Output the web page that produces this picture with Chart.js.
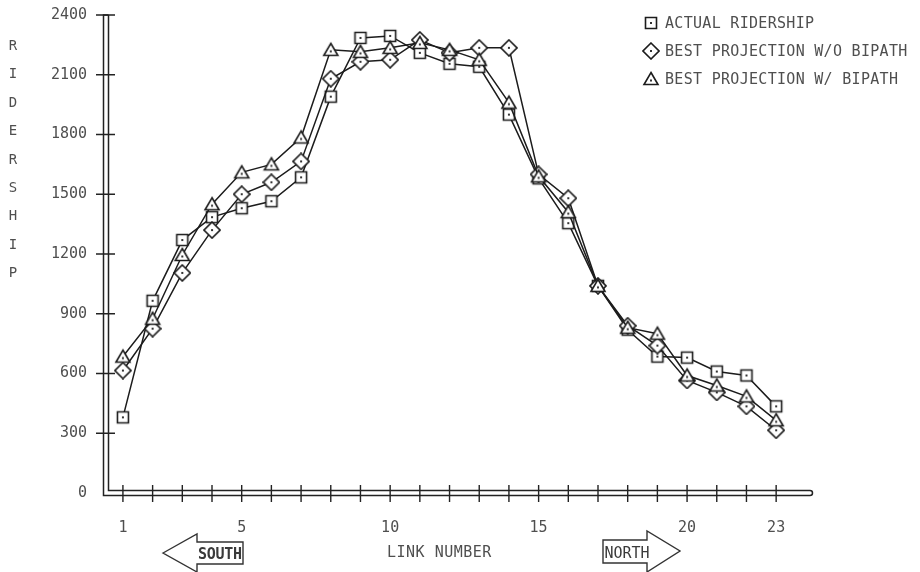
<!DOCTYPE html>
<html>
<head>
<meta charset="utf-8">
<script src="https://cdn.jsdelivr.net/npm/chart.js@4.4.1/dist/chart.umd.min.js"></script>
<style>
  html, body { margin: 0; padding: 0; background: #fff; }
  #wrap { position: relative; width: 920px; height: 572px; overflow: hidden;
          font-family: 'DejaVu Sans Mono', monospace; color: #4f4f4f; }
  #chart { position: absolute; left: 0; top: 0; }
  #ytitle { position: absolute; left: 5px; top: 31px; width: 16px; font-size: 14px;
            line-height: 28.4px; text-align: center; }
  #legend { position: absolute; left: 642px; top: 9px; font-size: 15px; letter-spacing: 0.3px; }
  #legend .row { height: 28px; display: flex; align-items: center; white-space: nowrap; }
  #legend canvas { margin-right: 5px; }
  #xtitle { position: absolute; left: 387px; top: 543px; font-size: 15px; letter-spacing: 0.5px; }
  svg { position: absolute; left: 0; top: 0; }
</style>
</head>
<body>
<div id="wrap">
  <canvas id="chart" width="920" height="572"></canvas>
  <div id="ytitle"></div>
  <div id="legend"></div>
  <div id="xtitle">LINK NUMBER</div>
  <svg width="920" height="572">
    <polygon points="163,553 197,534 197,542 243,542 243,564 197,564 197,572"
             fill="#fff" stroke="#333" stroke-width="1.4"/>
    <text x="220" y="559" text-anchor="middle" font-family="DejaVu Sans Mono, monospace"
          font-size="15" font-weight="bold" fill="#3a3a3a" textLength="44">SOUTH</text>
    <polygon points="603,540 647,540 647,531 680,551 647,572 647,563 603,563"
             fill="#fff" stroke="#333" stroke-width="1.4"/>
    <text x="627" y="558" text-anchor="middle" font-family="DejaVu Sans Mono, monospace"
          font-size="15" fill="#3a3a3a">NORTH</text>
  </svg>
</div>
<script>
// link numbers along the line (south -> north)
const links = [1, 2, 3, 4, 5, 6, 7, 8, 9, 10, 11, 12, 13, 14, 15, 16, 17, 18, 19, 20, 21, 22, 23];
const xLabelLinks = [1, 5, 10, 15, 20, 23];

// ridership per link
const actualRidership = [380, 965, 1270, 1385, 1430, 1465, 1585, 1990, 2285, 2295, 2210, 2155,
                         2140, 1900, 1580, 1355, 1040, 820, 685, 680, 610, 590, 435];
const projNoBipath    = [615, 825, 1105, 1320, 1500, 1560, 1665, 2080, 2165, 2175, 2275, 2210,
                         2235, 2235, 1600, 1480, 1040, 840, 740, 565, 505, 435, 315];
const projWithBipath  = [685, 875, 1195, 1450, 1610, 1650, 1785, 2225, 2215, 2235, 2260, 2225,
                         2175, 1960, 1590, 1410, 1040, 830, 800, 590, 540, 485, 365];

const seriesNames = ['ACTUAL RIDERSHIP', 'BEST PROJECTION W/O BIPATH', 'BEST PROJECTION W/ BIPATH'];
const yTitle = 'RIDERSHIP';

const INK = '#1c1c1c';

// little plotter-style markers with a dot in the middle
function makeMarker(kind) {
  const c = document.createElement('canvas');
  c.width = 18; c.height = 18;
  const g = c.getContext('2d');
  g.lineWidth = 1.6;
  g.strokeStyle = INK;
  g.fillStyle = '#fff';
  g.beginPath();
  let dotY = 9;
  if (kind === 'square') {
    g.rect(3.5, 3.5, 11, 11);
  } else if (kind === 'diamond') {
    g.moveTo(9, 1); g.lineTo(17, 9); g.lineTo(9, 17); g.lineTo(1, 9); g.closePath();
  } else {
    g.moveTo(9, 2.5); g.lineTo(16, 14.5); g.lineTo(2, 14.5); g.closePath();
    dotY = 10.5;
  }
  g.fill();
  g.stroke();
  g.fillStyle = '#333';
  g.fillRect(8, dotY - 1, 2, 2);
  return c;
}

const markerKinds = ['square', 'diamond', 'triangle'];
const markers = markerKinds.map(makeMarker);

function toPoints(values) {
  return values.map((v, i) => ({ x: links[i], y: v }));
}

// double-line axes with crossing tick marks
const plotterAxes = {
  id: 'plotterAxes',
  beforeDatasetsDraw(chart) {
    const { ctx, chartArea: a, scales: { x, y } } = chart;
    const L = a.left, B = a.bottom, R = a.right, T = y.getPixelForValue(2400);
    ctx.save();
    ctx.strokeStyle = '#222';
    ctx.lineWidth = 1.5;
    ctx.beginPath();
    ctx.moveTo(L + 2.5, T);
    ctx.lineTo(L - 2.5, T);
    ctx.lineTo(L - 2.5, B + 2.5);
    ctx.lineTo(R, B + 2.5);
    ctx.arc(R, B, 2.5, Math.PI / 2, -Math.PI / 2, true);
    ctx.lineTo(L + 2.5, B - 2.5);
    ctx.lineTo(L + 2.5, T);
    ctx.stroke();

    ctx.lineWidth = 1.4;
    ctx.beginPath();
    for (let v = 300; v <= 2400; v += 300) {
      const py = y.getPixelForValue(v);
      ctx.moveTo(L - 10, py); ctx.lineTo(L + 9, py);
    }
    links.forEach(n => {
      const px = x.getPixelForValue(n);
      ctx.moveTo(px, B - 8); ctx.lineTo(px, B + 9);
    });
    ctx.stroke();
    ctx.restore();
  }
};

const font = { family: "'DejaVu Sans Mono', monospace", size: 15 };

new Chart(document.getElementById('chart'), {
  type: 'line',
  data: {
    datasets: [projWithBipath, projNoBipath, actualRidership].map((vals, k) => {
      const idx = 2 - k;
      return {
        label: seriesNames[idx],
        data: toPoints(vals),
        borderColor: INK,
        borderWidth: 1.5,
        tension: 0,
        fill: false,
        pointStyle: markers[idx],
        pointRadius: 9,
        pointHoverRadius: 9
      };
    })
  },
  plugins: [plotterAxes],
  options: {
    responsive: false,
    animation: false,
    layout: { autoPadding: false, padding: { left: 0, right: 110, top: 15, bottom: 0 } },
    plugins: { legend: { display: false }, tooltip: { enabled: false } },
    scales: {
      x: {
        type: 'linear',
        min: 0.43,
        max: 24.14,
        afterFit: s => { s.height = 79; s.paddingLeft = 0; s.paddingRight = 0; },
        afterBuildTicks: s => { s.ticks = links.map(v => ({ value: v })); },
        grid: { display: false, drawTicks: false },
        border: { display: false },
        ticks: {
          autoSkip: false,
          maxRotation: 0,
          padding: 26,
          color: '#4f4f4f',
          font,
          callback: v => xLabelLinks.includes(v) ? String(v) : ''
        }
      },
      y: {
        min: 0,
        max: 2400,
        afterFit: s => { s.width = 106; s.paddingTop = 0; s.paddingBottom = 0; },
        grid: { display: false, drawTicks: false },
        border: { display: false },
        ticks: { stepSize: 300, padding: 19, color: '#4f4f4f', font, callback: v => String(v) }
      }
    }
  }
});

// y-axis title, one letter per line
document.getElementById('ytitle').innerHTML = yTitle.split('').map(ch => `<div>${ch}</div>`).join('');

// legend
const legend = document.getElementById('legend');
seriesNames.forEach((name, i) => {
  const row = document.createElement('div');
  row.className = 'row';
  row.appendChild(makeMarker(markerKinds[i]));
  const span = document.createElement('span');
  span.textContent = name;
  row.appendChild(span);
  legend.appendChild(row);
});
</script>
</body>
</html>
